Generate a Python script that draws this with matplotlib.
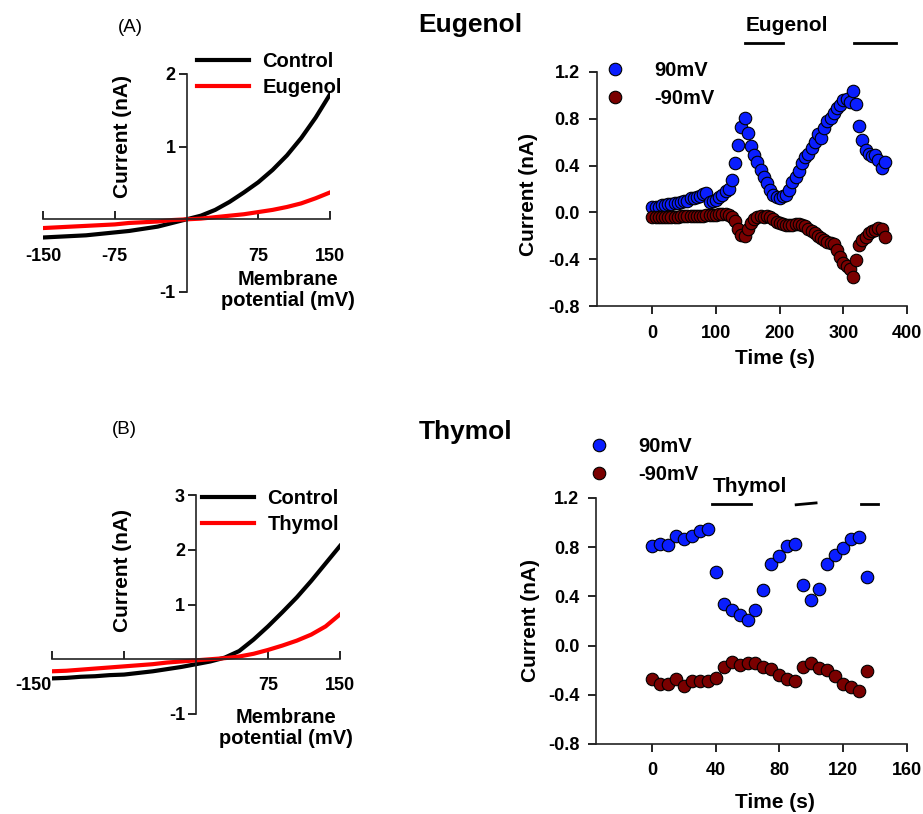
import numpy as np
import matplotlib.pyplot as plt

plt.rcParams['font.family'] = ['Liberation Sans', 'DejaVu Sans']
plt.rcParams['font.weight'] = 'bold'

# I-V curves (membrane potential in mV, current in nA)
mv = [-150, -135, -120, -105, -90, -75, -60, -45, -30, -15, 0,
      15, 30, 45, 60, 75, 90, 105, 120, 135, 150]
eug_control = [-0.25, -0.24, -0.23, -0.22, -0.20, -0.18, -0.16, -0.13, -0.10, -0.05, 0.0,
               0.05, 0.13, 0.24, 0.37, 0.51, 0.68, 0.88, 1.12, 1.40, 1.72]
eug_drug = [-0.12, -0.11, -0.10, -0.09, -0.08, -0.07, -0.05, -0.04, -0.03, -0.01, 0.0,
            0.01, 0.03, 0.05, 0.07, 0.10, 0.13, 0.17, 0.22, 0.29, 0.37]
thy_control = [-0.35, -0.34, -0.32, -0.31, -0.29, -0.28, -0.25, -0.22, -0.18, -0.14, -0.09,
               -0.04, 0.03, 0.15, 0.36, 0.60, 0.86, 1.13, 1.43, 1.75, 2.07]
thy_drug = [-0.22, -0.21, -0.19, -0.17, -0.15, -0.13, -0.11, -0.09, -0.06, -0.04, -0.02,
            0.0, 0.02, 0.05, 0.10, 0.17, 0.25, 0.34, 0.45, 0.60, 0.82]

# time courses (s, nA)
eug_t = list(range(0, 370, 5))
eug_pos = [0.05, 0.05, 0.05, 0.06, 0.06, 0.07, 0.07, 0.08, 0.08, 0.09,
           0.10, 0.10, 0.12, 0.12, 0.13, 0.14, 0.16, 0.17, 0.09, 0.10,
           0.11, 0.13, 0.15, 0.18, 0.20, 0.28, 0.42, 0.58, 0.73, 0.81,
           0.68, 0.57, 0.49, 0.43, 0.36, 0.30, 0.25, 0.19, 0.15, 0.13,
           0.12, 0.14, 0.15, 0.19, 0.26, 0.30, 0.35, 0.42, 0.47, 0.50,
           0.55, 0.60, 0.67, 0.64, 0.72, 0.78, 0.81, 0.85, 0.89, 0.92,
           0.96, 0.97, 0.94, 1.04, 0.93, 0.74, 0.62, 0.53, 0.50, 0.48,
           0.49, 0.45, 0.38, 0.43]
eug_neg = [-0.04, -0.04, -0.04, -0.04, -0.04, -0.04, -0.04, -0.04, -0.04, -0.03,
           -0.03, -0.03, -0.03, -0.03, -0.03, -0.03, -0.03, -0.02, -0.02, -0.02,
           -0.02, -0.01, -0.01, -0.01, -0.02, -0.04, -0.07, -0.14, -0.19, -0.20,
           -0.14, -0.09, -0.06, -0.04, -0.03, -0.04, -0.03, -0.04, -0.06, -0.08,
           -0.09, -0.10, -0.11, -0.11, -0.11, -0.10, -0.10, -0.11, -0.12, -0.14,
           -0.16, -0.18, -0.20, -0.22, -0.24, -0.25, -0.26, -0.27, -0.32, -0.38,
           -0.43, -0.46, -0.48, -0.55, -0.41, -0.28, -0.24, -0.21, -0.18, -0.16,
           -0.15, -0.13, -0.14, -0.21]

thy_t = list(range(0, 140, 5))
thy_pos = [0.81, 0.83, 0.82, 0.89, 0.87, 0.89, 0.93, 0.95, 0.60, 0.34,
           0.29, 0.25, 0.21, 0.29, 0.45, 0.66, 0.73, 0.81, 0.83, 0.49,
           0.37, 0.46, 0.66, 0.74, 0.79, 0.87, 0.88, 0.56]
thy_neg = [-0.27, -0.31, -0.31, -0.27, -0.33, -0.29, -0.29, -0.29, -0.26, -0.17,
           -0.13, -0.16, -0.14, -0.14, -0.17, -0.19, -0.24, -0.27, -0.29, -0.17,
           -0.14, -0.18, -0.20, -0.25, -0.31, -0.34, -0.37, -0.21]

# application bars
eug_bars = [(146, 205), (317, 383)]
thy_bars = [(38, 62), (90.5, 103), (131, 142)]

W, H = 923, 814
fig = plt.figure(figsize=(W / 100, H / 100), dpi=100)


def frac(x0, y0, x1, y1):
    return [x0 / W, 1 - y1 / H, (x1 - x0) / W, (y1 - y0) / H]


def iv_panel(rect, ctrl, drug, drug_name, ylim, yticks, xlabels, xpad, leg_xy):
    ax = fig.add_axes(rect)
    ax.plot(mv, ctrl, color='black', lw=3, label='Control')
    ax.plot(mv, drug, color='red', lw=3, label=drug_name)
    ax.set_xlim(-150, 150)
    ax.set_ylim(*ylim)
    for s in ['top', 'right']:
        ax.spines[s].set_visible(False)
    for s in ['left', 'bottom']:
        ax.spines[s].set_position(('data', 0))
        ax.spines[s].set_linewidth(1.2)
        ax.spines[s].set_color('#222222')
    ax.set_xticks([-150, -75, 75, 150])
    ax.set_xticklabels(xlabels)
    ax.set_yticks(yticks)
    ax.set_yticklabels([str(v) for v in yticks])
    ax.tick_params(axis='x', direction='in', length=6, width=1.2, pad=xpad, labelsize=13)
    ax.tick_params(axis='y', direction='out', length=6, width=1.2, pad=2, labelsize=13)
    ax.legend(loc='upper left', bbox_to_anchor=(leg_xy[0] / W, 1 - leg_xy[1] / H),
              bbox_transform=fig.transFigure, frameon=False, fontsize=14.5,
              handlelength=2.6, handletextpad=0.65, labelspacing=0.35,
              borderaxespad=0, borderpad=0)
    return ax


def time_panel(rect, t, pos, neg, xlim, xticks, ylim, yticks, xpad, ypad, leg_xy):
    ax = fig.add_axes(rect)
    ax.plot(t, pos, 'o', ls='none', ms=9, mfc='#0a1eff', mec='black', mew=0.8, label='90mV')
    ax.plot(t, neg, 'o', ls='none', ms=9, mfc='#7a0000', mec='black', mew=0.8, label='-90mV')
    ax.set_xlim(*xlim)
    ax.set_ylim(*ylim)
    for s in ['top', 'right']:
        ax.spines[s].set_visible(False)
    for s in ['left', 'bottom']:
        ax.spines[s].set_linewidth(1.2)
        ax.spines[s].set_color('#222222')
    ax.set_xticks(xticks)
    ax.set_yticks(yticks)
    ax.set_yticklabels([f'{v:.1f}' for v in yticks])
    ax.tick_params(axis='x', length=6, width=1.2, pad=xpad, labelsize=13)
    ax.tick_params(axis='y', length=6, width=1.2, pad=ypad, labelsize=13)
    ax.legend(loc='upper left', bbox_to_anchor=(leg_xy[0] / W, 1 - leg_xy[1] / H),
              bbox_transform=fig.transFigure, frameon=False, fontsize=14.5,
              numpoints=1, handlelength=1.5, handletextpad=1.2, labelspacing=0.45,
              borderaxespad=0, borderpad=0)
    return ax


yt_r = [-0.8, -0.4, 0.0, 0.4, 0.8, 1.2]

# (A) Eugenol
iv_panel(frac(43, 74, 330, 292), eug_control, eug_drug, 'Eugenol', (-1, 2), [-1, 1, 2],
         ['-150', '-75', '75', '150'], 20.5, (197, 52))
fig.text(123 / W, 1 - 137 / H, 'Current (nA)', rotation=90, ha='center', va='center', fontsize=15)
fig.text(288 / W, 1 - 290 / H, 'Membrane\npotential (mV)', ha='center', va='center',
         fontsize=14.5, linespacing=1.1)
fig.text(130 / W, 1 - 27 / H, '(A)', ha='center', va='center', fontsize=13.5, fontweight='normal')
fig.text(470 / W, 1 - 25 / H, 'Eugenol', ha='center', va='center', fontsize=19)

ax = time_panel(frac(597, 72, 907, 306), eug_t, eug_pos, eug_neg, (-87, 400),
                [0, 100, 200, 300, 400], (-0.8, 1.2), yt_r, 8, 6.5, (600, 61))
for a, b in eug_bars:
    ax.plot([a, b], [1.448, 1.448], color='black', lw=2, clip_on=False)
ax.text(eug_bars[0][0], 1.6, 'Eugenol', ha='left', va='center', fontsize=15, clip_on=False)
fig.text(528 / W, 1 - 195 / H, 'Current (nA)', rotation=90, ha='center', va='center', fontsize=15)
fig.text(775 / W, 1 - 358 / H, 'Time (s)', ha='center', va='center', fontsize=15)

# (B) Thymol
ax = iv_panel(frac(52, 495, 340, 714), thy_control, thy_drug, 'Thymol', (-1, 3), [-1, 1, 2, 3],
              ['-150', '', '75', '150'], 12.5, (202, 489))
ax.get_xticklabels()[0].set_ha('right')
fig.text(123 / W, 1 - 570 / H, 'Current (nA)', rotation=90, ha='center', va='center', fontsize=15)
fig.text(286 / W, 1 - 728 / H, 'Membrane\npotential (mV)', ha='center', va='center',
         fontsize=14.5, linespacing=1.1)
fig.text(124 / W, 1 - 430 / H, '(B)', ha='center', va='center', fontsize=13.5, fontweight='normal')
fig.text(466 / W, 1 - 432 / H, 'Thymol', ha='center', va='center', fontsize=19)

ax = time_panel(frac(596, 498, 907, 744), thy_t, thy_pos, thy_neg, (-35, 160),
                [0, 40, 80, 120, 160], (-0.8, 1.2), yt_r, 7, 6, (584, 437))
bar_y = [(1.15, 1.15), (1.145, 1.16), (1.15, 1.15)]
for (a, b), (ya, yb) in zip(thy_bars, bar_y):
    ax.plot([a, b], [ya, yb], color='black', lw=2, clip_on=False)
ax.text(thy_bars[0][0], 1.29, 'Thymol', ha='left', va='center', fontsize=15, clip_on=False)
fig.text(530 / W, 1 - 620 / H, 'Current (nA)', rotation=90, ha='center', va='center', fontsize=15)
fig.text(775 / W, 1 - 802 / H, 'Time (s)', ha='center', va='center', fontsize=15)

fig.savefig('out.png', dpi=100)
